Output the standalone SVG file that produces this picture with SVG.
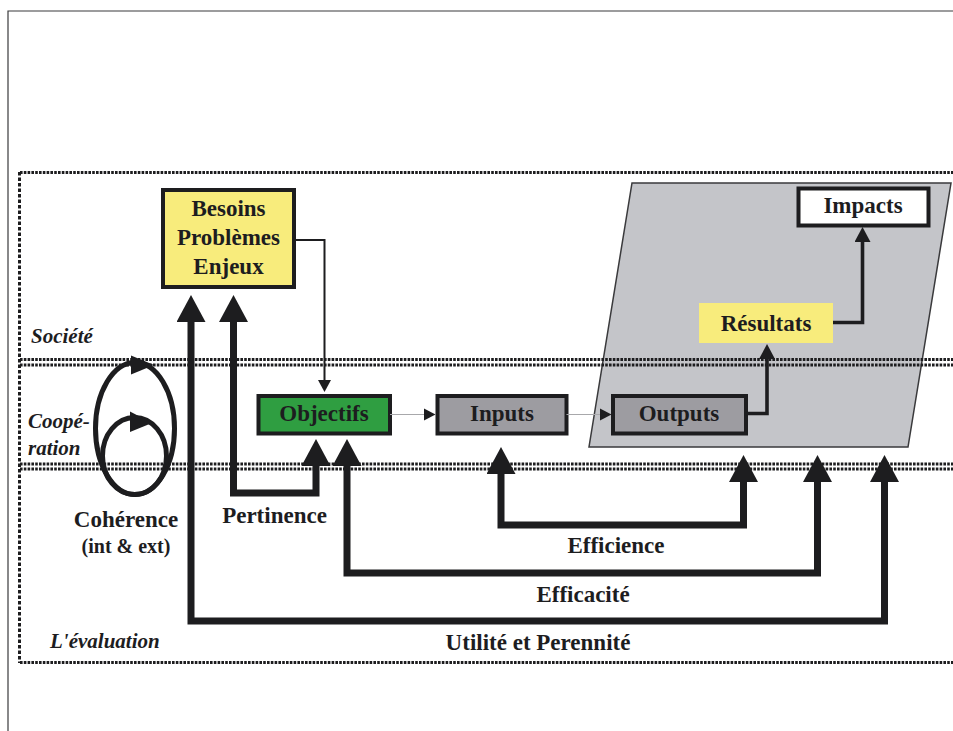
<svg xmlns="http://www.w3.org/2000/svg" width="953" height="731" viewBox="0 0 953 731">
<style>
.frame{fill:none;stroke:#3a3a3c;stroke-width:1.2}
.dot{fill:none;stroke:#1d1d1f;stroke-width:3;stroke-dasharray:2.6 1.2}
.dotv{fill:none;stroke:#1d1d1f;stroke-width:3;stroke-dasharray:3.5 2}
.box{stroke:#1d1d1f;stroke-width:4}
.lbl{font-family:"Liberation Serif","Times New Roman",serif;font-weight:bold;font-size:23px;fill:#1d1d1f;text-anchor:middle}
.zone{font-family:"Liberation Serif","Times New Roman",serif;font-weight:bold;font-style:italic;font-size:21px;fill:#1d1d1f}
.fb{fill:none;stroke:#1d1d1f;stroke-width:7;stroke-linejoin:miter}
.thin{fill:none;stroke:#1d1d1f;stroke-width:2}
.med{fill:none;stroke:#1d1d1f;stroke-width:3.6}
.grey{fill:none;stroke:#a8a8ab;stroke-width:1.2}
.loop{fill:none;stroke:#1d1d1f;stroke-width:5}
</style>
<defs>
<marker id="big" viewBox="0 0 27 29" refX="0" refY="14.5" markerWidth="27" markerHeight="29" markerUnits="userSpaceOnUse" orient="auto-start-reverse">
<path d="M0,0 L27,14.5 L0,29 z" fill="#1d1d1f"/>
</marker>
<marker id="med" viewBox="0 0 15 16" refX="0" refY="8" markerWidth="15" markerHeight="16" markerUnits="userSpaceOnUse" orient="auto">
<path d="M0,0 L15,8 L0,16 z" fill="#1d1d1f"/>
</marker>
<marker id="sm" viewBox="0 0 12 13" refX="0" refY="6.5" markerWidth="12" markerHeight="13" markerUnits="userSpaceOnUse" orient="auto">
<path d="M0,0 L12,6.5 L0,13 z" fill="#1d1d1f"/>
</marker>
</defs>
<rect width="953" height="731" fill="#ffffff"/>
<path class="frame" d="M8,731 V11 H953"/>

<g id="zone-resultats">
<polygon points="632,183 951,183 908,447 589,447" fill="#c4c5c9" stroke="#3a3a3c" stroke-width="1.5"/>
</g>

<g id="bands">
<path class="dot" d="M20,172.5 H953"/>
<path class="dotv" d="M19.5,172 V663"/>
<path class="dot" d="M20,359.5 H953 M20,365 H953"/>
<path class="dot" d="M20,464 H953 M20,469 H953"/>
<path class="dot" d="M20,662.5 H953"/>
</g>

<g id="zone-labels">
<text class="zone" x="31" y="343">Société</text>
<text class="zone" x="28" y="428">Coopé-</text>
<text class="zone" x="28" y="455">ration</text>
<text class="zone" x="50" y="648">L'évaluation</text>
</g>

<g id="besoins">
<rect class="box" x="163" y="190" width="131" height="97" fill="#f8ec7c"/>
<text class="lbl" x="228.5" y="216">Besoins</text>
<text class="lbl" x="228.5" y="245">Problèmes</text>
<text class="lbl" x="228.5" y="274">Enjeux</text>
</g>

<g id="objectifs">
<rect class="box" x="258.5" y="396" width="131.5" height="37.5" fill="#2f9e41"/>
<text class="lbl" x="324" y="421">Objectifs</text>
</g>

<g id="inputs">
<rect class="box" x="437.5" y="396" width="129" height="37.5" fill="#9d9ca1"/>
<text class="lbl" x="502" y="421">Inputs</text>
</g>

<g id="outputs">
<rect class="box" x="613" y="396" width="133" height="37.5" fill="#9d9ca1"/>
<text class="lbl" x="679" y="421">Outputs</text>
</g>

<g id="resultats">
<rect x="699" y="303" width="134" height="40" fill="#f8ec7c"/>
<text class="lbl" x="766" y="331">Résultats</text>
</g>

<g id="impacts">
<rect class="box" x="798.5" y="188.5" width="130" height="37" fill="#ffffff"/>
<text class="lbl" x="863" y="213">Impacts</text>
</g>

<g id="coherence">
<ellipse class="loop" cx="135" cy="428.5" rx="39.5" ry="66"/>
<ellipse class="loop" cx="134.5" cy="456" rx="32" ry="38.5"/>
<polygon points="131,355.5 154,365 131,374.5" fill="#1d1d1f"/>
<polygon points="130,411.5 152,423 130,432" fill="#1d1d1f"/>
<text class="lbl" x="126" y="527">Cohérence</text>
<text class="lbl" x="126" y="553" style="font-size:20px">(int &amp; ext)</text>
</g>

<g id="connectors">
<path class="thin" d="M294,240 H324.5 V380" marker-end="url(#sm)"/>
<path class="grey" d="M390,414.5 H424"/>
<path d="M424,408.5 L435.5,414.5 L424,420.5 z" fill="#1d1d1f"/>
<path class="grey" d="M566.5,414.5 H600"/>
<path d="M600,408.5 L611.5,414.5 L600,420.5 z" fill="#1d1d1f"/>
<path class="med" d="M746,413.5 H767 V359" marker-end="url(#med)"/>
<path class="med" d="M833,322.5 H862.5 V242" marker-end="url(#med)"/>

<path class="fb" d="M316,466 V493 H233.5 V322" marker-start="url(#big)" marker-end="url(#big)"/>
<path class="fb" d="M817.5,482 V573 H347 V466" marker-start="url(#big)" marker-end="url(#big)"/>
<path class="fb" d="M743.5,482 V525 H501 V474" marker-start="url(#big)" marker-end="url(#big)"/>
<path class="fb" d="M884.5,482 V621 H191 V322" marker-start="url(#big)" marker-end="url(#big)"/>
</g>

<g id="feedback-labels">
<text class="lbl" x="274.5" y="523">Pertinence</text>
<text class="lbl" x="616" y="553">Efficience</text>
<text class="lbl" x="583" y="602">Efficacité</text>
<text class="lbl" x="538" y="650">Utilité et Perennité</text>
</g>
</svg>
